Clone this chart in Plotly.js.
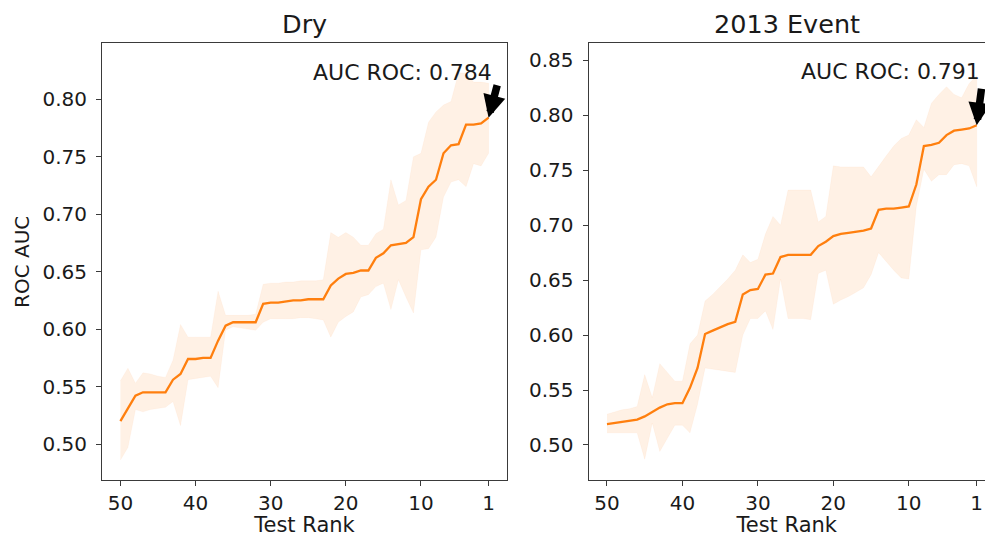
<!DOCTYPE html>
<html>
<head>
<meta charset="utf-8">
<script src="https://cdn.plot.ly/plotly-3.0.1.min.js"></script>
<style>
  html, body { margin: 0; padding: 0; background: #fff; }
  #chart { width: 985px; height: 537px; }
</style>
</head>
<body>
<div id="chart"></div>
<script>
// Test rank, from 50 down to 1
const ranks = [50,49,48,47,46,45,44,43,42,41,40,39,38,37,36,35,34,33,32,31,
               30,29,28,27,26,25,24,23,22,21,20,19,18,17,16,15,14,13,12,11,
               10,9,8,7,6,5,4,3,2,1];

// Dry: mean ROC AUC and spread band
const dryMean = [0.520,0.531,0.542,0.545,0.545,0.545,0.545,0.556,0.561,0.574,
                 0.574,0.575,0.575,0.590,0.603,0.606,0.606,0.606,0.606,0.622,
                 0.623,0.623,0.624,0.625,0.625,0.626,0.626,0.626,0.638,0.644,
                 0.648,0.649,0.651,0.651,0.662,0.666,0.673,0.674,0.675,0.680,
                 0.713,0.724,0.730,0.753,0.760,0.761,0.778,0.778,0.779,0.784];
const dryUpper = [0.555,0.566,0.553,0.562,0.561,0.559,0.558,0.573,0.604,0.593,
                  0.593,0.593,0.593,0.633,0.612,0.612,0.612,0.612,0.613,0.639,
                  0.640,0.640,0.641,0.641,0.642,0.642,0.642,0.643,0.684,0.680,
                  0.684,0.680,0.673,0.673,0.683,0.687,0.730,0.708,0.712,0.750,
                  0.753,0.780,0.789,0.795,0.798,0.823,0.823,0.815,0.815,0.814];
const dryLower = [0.486,0.497,0.530,0.528,0.530,0.531,0.532,0.537,0.516,0.556,
                  0.557,0.558,0.559,0.549,0.599,0.602,0.601,0.600,0.599,0.606,
                  0.609,0.609,0.609,0.609,0.610,0.610,0.609,0.608,0.593,0.606,
                  0.611,0.615,0.628,0.630,0.637,0.640,0.617,0.643,0.628,0.614,
                  0.669,0.670,0.680,0.715,0.728,0.730,0.724,0.744,0.742,0.753];

// 2013 Event: mean ROC AUC and spread band
const evMean = [0.519,0.520,0.521,0.522,0.523,0.526,0.530,0.534,0.537,0.538,
                0.538,0.552,0.570,0.601,0.604,0.607,0.610,0.612,0.637,0.641,
                0.642,0.655,0.656,0.671,0.673,0.673,0.673,0.673,0.681,0.685,
                0.690,0.692,0.693,0.694,0.695,0.697,0.714,0.715,0.715,0.716,
                0.717,0.737,0.772,0.773,0.775,0.782,0.786,0.787,0.788,0.791];
const evUpper = [0.528,0.530,0.532,0.533,0.535,0.564,0.543,0.574,0.566,0.558,
                 0.558,0.592,0.600,0.631,0.637,0.644,0.651,0.659,0.673,0.666,
                 0.669,0.692,0.708,0.700,0.732,0.732,0.732,0.732,0.703,0.708,
                 0.754,0.753,0.753,0.753,0.753,0.744,0.754,0.763,0.772,0.779,
                 0.782,0.796,0.789,0.811,0.819,0.826,0.819,0.816,0.829,0.836];
const evLower = [0.511,0.511,0.511,0.511,0.511,0.487,0.520,0.494,0.506,0.518,
                 0.518,0.511,0.537,0.570,0.569,0.568,0.567,0.566,0.600,0.615,
                 0.615,0.622,0.605,0.651,0.615,0.615,0.615,0.614,0.656,0.659,
                 0.628,0.632,0.635,0.639,0.643,0.655,0.675,0.667,0.659,0.652,
                 0.651,0.717,0.751,0.740,0.746,0.746,0.755,0.756,0.754,0.735];

const panelTitles = ['Dry', '2013 Event'];
const xTicks = [50, 40, 30, 20, 10, 1];
const finalAuc = [dryMean[dryMean.length - 1], evMean[evMean.length - 1]];

const FONT = 'DejaVu Sans, Verdana, sans-serif';
const INK = '#1a1a1a';
const FRAME = '#3a3a3a';
const ORANGE = '#ff7f0e';
const BAND = 'rgba(255,127,14,0.11)';

function band(upper, lower, xa, ya) {
  return {
    x: ranks.concat(ranks.slice().reverse()),
    y: upper.concat(lower.slice().reverse()),
    xaxis: xa, yaxis: ya,
    type: 'scatter', mode: 'lines',
    fill: 'toself', fillcolor: BAND,
    line: { width: 0.6, color: 'rgba(255,127,14,0.08)' },
    hoverinfo: 'skip', showlegend: false
  };
}
function meanLine(vals, xa, ya) {
  return {
    x: ranks, y: vals, xaxis: xa, yaxis: ya,
    type: 'scatter', mode: 'lines',
    line: { color: ORANGE, width: 2.3 },
    showlegend: false
  };
}

const data = [
  band(dryUpper, dryLower, 'x', 'y'),
  meanLine(dryMean, 'x', 'y'),
  band(evUpper, evLower, 'x2', 'y2'),
  meanLine(evMean, 'x2', 'y2')
];

const W = 985, H = 537;
const yDomain = [(H - 480) / H, (H - 43) / H];

function xAxis(domain, range, anchor) {
  return {
    domain: domain, range: range, anchor: anchor,
    tickmode: 'array', tickvals: xTicks, ticktext: xTicks.map(String),
    ticks: 'outside', ticklen: 5, tickwidth: 1, tickcolor: FRAME,
    showline: true, linecolor: FRAME, linewidth: 1, mirror: true,
    showgrid: false, zeroline: false,
    tickfont: { family: FONT, size: 20, color: INK },
    title: { text: 'Test Rank', font: { family: FONT, size: 21, color: INK }, standoff: 9 }
  };
}
function yAxis(domain, range, anchor, mirror) {
  return {
    domain: domain, range: range, anchor: anchor,
    tick0: 0.5, dtick: 0.05, tickformat: '.2f',
    ticks: 'outside', ticklen: 5, tickwidth: 1, tickcolor: FRAME,
    ticklabelstandoff: 5,
    showline: true, linecolor: FRAME, linewidth: 1, mirror: mirror,
    showgrid: false, zeroline: false,
    tickfont: { family: FONT, size: 20, color: INK }
  };
}

const layout = {
  width: W, height: H,
  margin: { l: 0, r: 0, t: 0, b: 0 },
  paper_bgcolor: '#fff', plot_bgcolor: '#fff',
  showlegend: false,
  font: { family: FONT, color: INK },
  xaxis: xAxis([102 / W, 507 / W], [52.45, -1.45], 'y'),
  yaxis: yAxis(yDomain, [0.4687, 0.849], 'x', true),
  xaxis2: xAxis([588.5 / W, 1], [52.45, -0.1], 'y2'),
  yaxis2: yAxis(yDomain, [0.4681, 0.8658], 'x2', false),
  annotations: [
    // panel titles
    { text: panelTitles[0], xref: 'x domain', yref: 'paper', x: 0.5, y: (H - 24) / H,
      xanchor: 'center', yanchor: 'middle', showarrow: false,
      font: { family: FONT, size: 25.5, color: INK } },
    { text: panelTitles[1], xref: 'x2 domain', yref: 'paper', x: 0.5, y: (H - 24) / H,
      xanchor: 'center', yanchor: 'middle', showarrow: false,
      font: { family: FONT, size: 25.5, color: INK } },
    // y axis label (left panel only)
    { text: 'ROC AUC', xref: 'paper', yref: 'paper', x: 22 / W, y: (H - 262) / H,
      xanchor: 'center', yanchor: 'middle', textangle: -90, showarrow: false,
      font: { family: FONT, size: 20, color: INK } },
    // final AUC labels
    { text: 'AUC ROC: ' + finalAuc[0].toFixed(3), xref: 'x', yref: 'y', x: 12.5, y: 0.8229,
      xanchor: 'center', yanchor: 'middle', showarrow: false,
      font: { family: FONT, size: 22, color: INK } },
    { text: 'AUC ROC: ' + finalAuc[1].toFixed(3), xref: 'x2', yref: 'y2', x: 12.45, y: 0.8397,
      xanchor: 'center', yanchor: 'middle', showarrow: false,
      font: { family: FONT, size: 22, color: INK } },
    // arrows pointing at the final rank
    { text: '', xref: 'x', yref: 'y', x: 1, y: finalAuc[0], ax: 9, ay: -34,
      showarrow: true, arrowhead: 2, arrowsize: 0.6, arrowwidth: 7.5, arrowcolor: '#000' },
    { text: '', xref: 'x2', yref: 'y2', x: 1, y: finalAuc[1], ax: 5, ay: -38,
      showarrow: true, arrowhead: 2, arrowsize: 0.6, arrowwidth: 7.5, arrowcolor: '#000' }
  ]
};

Plotly.newPlot('chart', data, layout, { staticPlot: true, displayModeBar: false });
</script>
</body>
</html>
